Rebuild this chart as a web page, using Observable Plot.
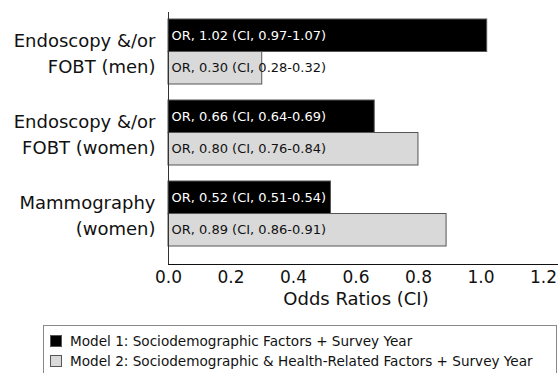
<!DOCTYPE html>
<html>
<head>
<meta charset="utf-8">
<script src="https://cdn.jsdelivr.net/npm/d3@7"></script>
<script src="https://cdn.jsdelivr.net/npm/@observablehq/plot@0.6"></script>
<style>
  html, body { margin: 0; padding: 0; background: white; }
  #wrap { position: relative; width: 559px; height: 373px; overflow: hidden; font-family: "DejaVu Sans", sans-serif; }
  #legend { position: absolute; left: 43px; top: 325px; width: 514px; height: 60px; border: 1px solid #888; box-sizing: border-box; padding-top: 5px; padding-left: 6px; font-size: 13.6px; color: #111; }
  .row { height: 20px; display: flex; align-items: center; }
  .sw { width: 12px; height: 12px; box-sizing: border-box; border: 1px solid #555; margin-right: 8px; flex: none; }
</style>
</head>
<body>
<div id="wrap"></div>
<script>
const groups = ["Endoscopy &/or\nFOBT (men)", "Endoscopy &/or\nFOBT (women)", "Mammography\n(women)"];
const model1OR = [1.02, 0.66, 0.52];
const model1Low = [0.97, 0.64, 0.51];
const model1High = [1.07, 0.69, 0.54];
const model2OR = [0.30, 0.80, 0.89];
const model2Low = [0.28, 0.76, 0.86];
const model2High = [0.32, 0.84, 0.91];
const xTicks = [0, 0.2, 0.4, 0.6, 0.8, 1.0, 1.2];
const modelNames = ["Model 1: Sociodemographic Factors + Survey Year", "Model 2: Sociodemographic & Health-Related Factors + Survey Year"];
const modelFills = ["#000000", "#d9d9d9"];

const fmt = d3.format(".2f");
const m1 = groups.map((g, i) => ({group: g, or: model1OR[i], label: `OR, ${fmt(model1OR[i])} (CI, ${fmt(model1Low[i])}-${fmt(model1High[i])})`}));
const m2 = groups.map((g, i) => ({group: g, or: model2OR[i], label: `OR, ${fmt(model2OR[i])} (CI, ${fmt(model2Low[i])}-${fmt(model2High[i])})`}));

const half = 32.5;
const chart = Plot.plot({
  width: 559,
  height: 322,
  marginLeft: 168,
  marginRight: 2,
  marginTop: 12,
  marginBottom: 58,
  style: {fontFamily: "DejaVu Sans", fontSize: "17px", background: "white", color: "#111"},
  x: {domain: [0, 1.245], ticks: xTicks, tickFormat: d3.format(".1f"), tickSize: 0, tickPadding: 6, line: true, label: null},
  y: {type: "band", domain: groups, paddingInner: 0.2, paddingOuter: 0.15, align: 0.29, axis: null},
  marks: [
    Plot.barX(m1, {x: "or", y: "group", fill: modelFills[0], stroke: "#555", strokeWidth: 1, insetBottom: half}),
    Plot.barX(m2, {x: "or", y: "group", fill: modelFills[1], stroke: "#555", strokeWidth: 1, insetTop: half}),
    Plot.text(m1, {x: 0, y: "group", text: "label", dy: -half / 2, dx: 3, textAnchor: "start", fill: "white", fontSize: 13}),
    Plot.text(m2, {x: 0, y: "group", text: "label", dy: half / 2, dx: 3, textAnchor: "start", fill: "#111", fontSize: 13}),
    Plot.text(groups, {x: 0, y: d => d, text: d => d, textAnchor: "end", dx: -13, fontSize: 18, lineHeight: 1.44, fill: "#111"}),
    Plot.text(["Odds Ratios (CI)"], {x: d3.mean(xTicks), frameAnchor: "bottom", dy: 40, fontSize: 18, fill: "#111"}),
    Plot.ruleX([0], {stroke: "#333"})
  ]
});
const wrap = document.getElementById("wrap");
wrap.appendChild(chart);

const legend = document.createElement("div");
legend.id = "legend";
modelNames.forEach((name, i) => {
  const row = document.createElement("div");
  row.className = "row";
  const sw = document.createElement("span");
  sw.className = "sw";
  sw.style.background = modelFills[i];
  row.appendChild(sw);
  const t = document.createElement("span");
  t.textContent = name;
  row.appendChild(t);
  legend.appendChild(row);
});
wrap.appendChild(legend);
</script>
</body>
</html>
